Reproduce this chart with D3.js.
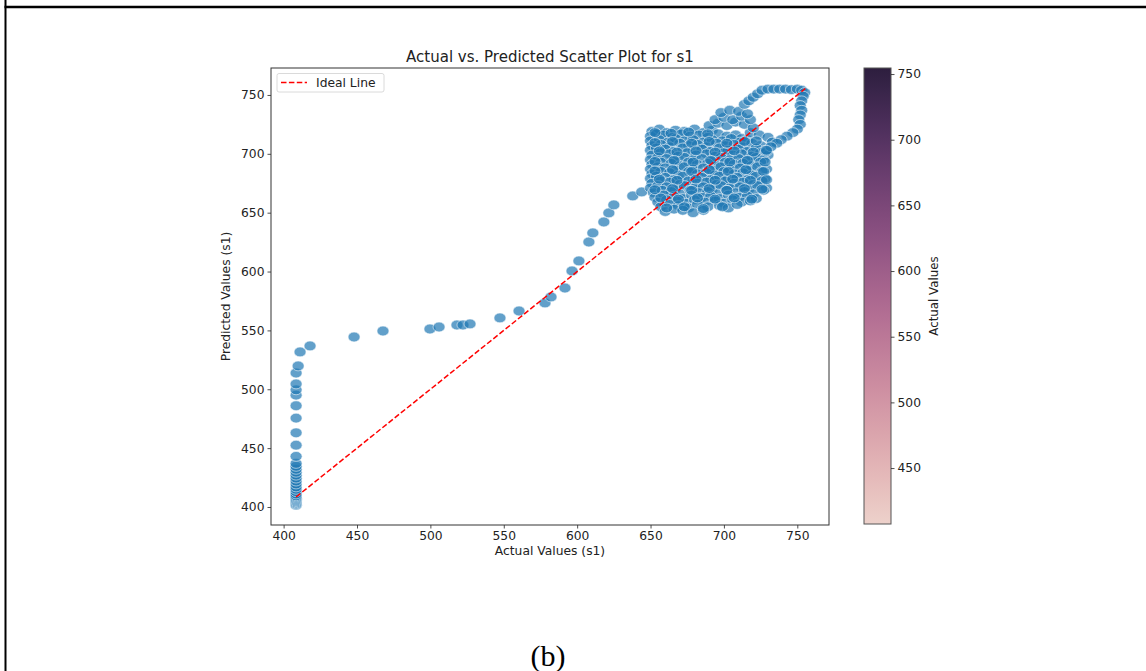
<!DOCTYPE html>
<html><head><meta charset="utf-8">
<script src="https://cdn.jsdelivr.net/npm/d3@7"></script>
<style>body{margin:0;background:#fff;} svg text{font-family:"DejaVu Sans",sans-serif;}</style>
</head><body><svg id="c" width="1146" height="671"></svg>
<script>
// ---------- data ----------
const chartTitle = "Actual vs. Predicted Scatter Plot for s1";
const xLabel = "Actual Values (s1)";
const yLabel = "Predicted Values (s1)";
const cbLabel = "Actual Values";
const legendLabel = "Ideal Line";
const captionText = "(b)";
const xTicks = [400, 450, 500, 550, 600, 650, 700, 750];
const yTicks = [400, 450, 500, 550, 600, 650, 700, 750];
const cbTicks = [450, 500, 550, 600, 650, 700, 750];
const xLimits = [391.4, 771.6];
const yLimits = [384.7, 772.9];
const cbRange = [407.4, 754.6];
const idealLine = [408.5, 755.5];

// [actual, predicted]
const columnPoints = [
 [408.5,401.5],[408.5,402.5],[408.5,403.5],[408.5,404.5],[408.5,405.5],[408.5,406.5],[408.5,407.5],[408.5,408.5],[408.5,409.5],
 [408.5,411],[408.5,413],[408.5,415],[408.5,417],[408.5,419.5],[408.5,422],[408.5,424.5],[408.5,427],[408.5,429.5],
 [408.5,432],[408.5,434.5],[408.5,437],[408.5,443],[408.5,452.5],[408.5,463],
 [408.5,475.5],[408.5,486],[408.5,495],[408.5,499.5],[408.5,504.5],
 [408.5,513.8],[409.9,519.8],[411.2,531.7]
];
const rampPoints = [
 [418,536.8],[448,544.4],[467.7,549.5],[499.7,551.2],[505.9,552.9],[518.1,554.6],[522.2,554.6],[527,555.5],
 [547.4,560.6],[560.4,566.5],[578.1,573.3],[582.2,578.4],[591.7,586],[596.5,600.5],[601.2,609],[608,625.1],
 [610.7,632.8],[618.2,642.1],[621.6,649.8],[625,656.6],[637.9,664.2],[644,667.6]
];
const clusterPoints = [
 [651,719],[656,721],[661,718],[667,720],[673,719],[680,721],[686,718],[692,720],
 [650,715],[654,717],[659,716],[665,714],[671,717],[677,715],[683,716],[689,714],[696,717],[702,715],[708,716],[712,713],
 [650,711],[656,712],[662,710],[667,713],[673,711],[679,712],[686,710],[692,712],[699,711],[705,713],[711,710],[716,712],
 [651,707],[657,708],[663,706],[670,709],[676,707],[682,708],[688,706],[695,709],[701,707],[707,708],[713,706],[719,709],[725,707],
 [650,703],[654,705],[660,704],[666,702],[672,705],[679,703],[685,704],[691,702],[697,705],[703,703],[710,704],[716,702],[722,705],[728,703],
 [651,699],[657,701],[663,700],[669,698],[675,701],[681,699],[688,700],[694,698],[700,701],[706,699],[712,700],[719,698],[725,701],[730,699],
 [650,695],[655,697],[661,696],[667,694],[673,697],[679,695],[685,696],[692,694],[698,697],[704,695],[710,696],[716,694],[722,697],[727,695],
 [651,691],[657,693],[664,692],[670,690],[676,693],[682,691],[689,692],[695,690],[701,693],[707,691],[713,692],[719,690],[725,693],
 [650,687],[655,689],[660,688],[667,686],[673,689],[679,687],[686,688],[692,686],[698,689],[704,687],[711,688],[717,686],[723,689],[729,687],
 [651,683],[657,685],[663,684],[669,682],[676,685],[682,683],[688,684],[694,682],[700,685],[707,683],[713,684],[719,682],[726,685],
 [650,679],[654,681],[660,680],[666,678],[672,681],[679,679],[685,680],[691,678],[697,681],[703,679],[709,680],[716,678],[722,681],[728,679],
 [651,675],[657,677],[663,676],[670,674],[676,677],[682,675],[688,676],[695,674],[701,677],[707,675],[713,676],[720,674],[726,677],
 [650,671],[655,673],[661,672],[667,670],[673,673],[680,671],[686,672],[692,670],[698,673],[704,671],[711,672],[717,670],[723,673],[729,671],
 [652,667],[658,669],[664,668],[670,666],[677,669],[683,667],[689,668],[695,666],[702,669],[708,667],[714,668],[720,666],[727,669],
 [653,663],[659,665],[666,664],[672,662],[678,665],[685,663],[691,664],[697,662],[703,665],[710,663],[716,664],[722,662],
 [655,659],[661,661],[668,660],[674,658],[680,661],[687,659],[694,660],[700,658],[706,661],[712,659],[718,660],
 [657,655],[663,657],[669,656],[676,654],[682,657],[689,655],[697,656],[703,654],[709,657],
 [660,651],[666,653],[672,652],[679,650],[686,652],
 [718,718],[724,716],[730,714],[733,710],[690,724],[696,726],[702,724],[708,727],[714,725],[720,722],
 [694,729],[700,731],[706,729],[712,732],[718,729],[698,735],[704,737],[710,736],[716,734],
 [653,718],[664,717.5],[676,718.5],[689,717],
 [653,709.5],[665,710.5],[678,709],[690,710.5],[702,709],[714,710.5],[722,711],
 [656,702.5],[668,701.5],[681,702.5],[694,701.5],[707,702.5],[720,701.5],[729,702],
 [653,693.5],[666,694.5],[679,693],[691,694.5],[704,693],[716,694.5],[728,693],
 [653,685.5],[665,686.5],[678,685],[690,686.5],[703,685],[715,686.5],[727,685],
 [656,678.5],[668,677.5],[681,678.5],[694,677.5],[706,678.5],[718,677.5],[729,678],
 [653,669.5],[665,670.5],[678,669],[690,670.5],[702,669],[714,670.5],[726,670],
 [657,662.5],[669,661.5],[682,662.5],[694,661.5],[707,662.5],[719,661.5],
 [661,654],[673,655],[686,653.5],[699,655]
];
const loopPoints = [
 [714,742],[717,745],[720,748],[723,751],[726,754],[730,755],[734,755],[738,755],[742,755],[746,754.5],
 [750,755],[753,754],[755,752],[754,749],[753,745],[752,741],[753,737],[752,733],[751,729],[752,725],
 [750,721],[747,718],[743,715],[739,712],[736,709],[732,706],[729,703]
];

// ---------- layout ----------
const svg = d3.select("#c");
const W = 1146, H = 671;
const plot = {left: 271, right: 829, top: 68, bottom: 525};
const cb = {left: 864, right: 891, top: 68, bottom: 524};
const baseFont = 12.3;

svg.append("line").attr("x1", 5.5).attr("x2", 5.5).attr("y1", 0).attr("y2", H).attr("stroke", "#000").attr("stroke-width", 2);
svg.append("line").attr("x1", 4.5).attr("x2", W).attr("y1", 7).attr("y2", 7).attr("stroke", "#000").attr("stroke-width", 2.5);

const x = d3.scaleLinear().domain(xLimits).range([plot.left, plot.right]);
const y = d3.scaleLinear().domain(yLimits).range([plot.bottom, plot.top]);

const allPoints = columnPoints.concat(rampPoints, clusterPoints, loopPoints);
svg.append("g").selectAll("ellipse").data(allPoints).join("ellipse")
  .attr("cx", d => x(d[0])).attr("cy", d => y(d[1]))
  .attr("rx", 6).attr("ry", 4.9)
  .attr("fill", "#1f77b4").attr("fill-opacity", 0.7)
  .attr("stroke", "#fff").attr("stroke-opacity", 0.7).attr("stroke-width", 0.8);

svg.append("line")
  .attr("x1", x(idealLine[0])).attr("y1", y(idealLine[0]))
  .attr("x2", x(idealLine[1])).attr("y2", y(idealLine[1]))
  .attr("stroke", "#ff0000").attr("stroke-width", 1.5).attr("stroke-dasharray", "5.5,2.4");

const xAxis = svg.append("g").attr("transform", `translate(0,${plot.bottom})`)
  .call(d3.axisBottom(x).tickValues(xTicks).tickSize(3.5).tickPadding(3).tickSizeOuter(0));
const yAxis = svg.append("g").attr("transform", `translate(${plot.left},0)`)
  .call(d3.axisLeft(y).tickValues(yTicks).tickSize(3.5).tickPadding(3).tickSizeOuter(0));
[xAxis, yAxis].forEach(g => {
  g.select(".domain").remove();
  g.selectAll("text").attr("font-size", baseFont).attr("fill", "#222").style("font-family", "DejaVu Sans");
  g.selectAll("line").attr("stroke", "#222").attr("stroke-width", 0.8);
});
svg.append("rect").attr("x", plot.left).attr("y", plot.top)
  .attr("width", plot.right - plot.left).attr("height", plot.bottom - plot.top)
  .attr("fill", "none").attr("stroke", "#333").attr("stroke-width", 1);

svg.append("text").attr("x", (plot.left + plot.right) / 2).attr("y", 62)
  .attr("text-anchor", "middle").attr("font-size", 15).attr("fill", "#222").text(chartTitle);
svg.append("text").attr("x", (plot.left + plot.right) / 2).attr("y", 555)
  .attr("text-anchor", "middle").attr("font-size", baseFont).attr("fill", "#222").text(xLabel);
svg.append("text").attr("transform", `translate(230,${(plot.top + plot.bottom) / 2}) rotate(-90)`)
  .attr("text-anchor", "middle").attr("font-size", baseFont).attr("fill", "#222").text(yLabel);

const lg = svg.append("g");
lg.append("rect").attr("x", 277).attr("y", 73.5).attr("width", 107).attr("height", 18.5).attr("rx", 2)
  .attr("fill", "#fff").attr("fill-opacity", 0.8).attr("stroke", "#d0d0d0").attr("stroke-width", 0.8);
lg.append("line").attr("x1", 281).attr("x2", 307).attr("y1", 82.5).attr("y2", 82.5)
  .attr("stroke", "#ff0000").attr("stroke-width", 1.5).attr("stroke-dasharray", "5.5,2.4");
lg.append("text").attr("x", 316).attr("y", 86.5).attr("font-size", baseFont).attr("fill", "#222").text(legendLabel);

function cubehelixSeaborn(t) {
  const light = 0.85, dark = 0.15, start = 0, rot = 0.4, hue = 0.8, gamma = 1;
  const xv = light + (dark - light) * t;
  const xg = Math.pow(xv, gamma);
  const a = hue * xg * (1 - xg) / 2;
  const phi = 2 * Math.PI * (start / 3 + rot * xv);
  const c = Math.cos(phi), s = Math.sin(phi);
  const r = xg + a * (-0.14861 * c + 1.78277 * s);
  const g = xg + a * (-0.29227 * c - 0.90649 * s);
  const b = xg + a * (1.97294 * c);
  const cl = v => Math.round(255 * Math.max(0, Math.min(1, v)));
  return `rgb(${cl(r)},${cl(g)},${cl(b)})`;
}
const cScale = d3.scaleLinear().domain(cbRange).range([cb.bottom, cb.top]);
const grad = svg.append("defs").append("linearGradient").attr("id", "cbgrad")
  .attr("x1", 0).attr("y1", 1).attr("x2", 0).attr("y2", 0);
d3.range(0, 1.0001, 0.05).forEach(t => {
  grad.append("stop").attr("offset", t).attr("stop-color", cubehelixSeaborn(t));
});
svg.append("rect").attr("x", cb.left).attr("y", cb.top)
  .attr("width", cb.right - cb.left).attr("height", cb.bottom - cb.top)
  .attr("fill", "url(#cbgrad)").attr("stroke", "#555").attr("stroke-width", 1);
const cAxis = svg.append("g").attr("transform", `translate(${cb.right},0)`)
  .call(d3.axisRight(cScale).tickValues(cbTicks).tickSize(3.5).tickPadding(3).tickSizeOuter(0));
cAxis.select(".domain").remove();
cAxis.selectAll("text").attr("font-size", baseFont).attr("fill", "#222").style("font-family", "DejaVu Sans");
cAxis.selectAll("line").attr("stroke", "#222").attr("stroke-width", 0.8);
svg.append("text").attr("transform", `translate(938,${(cb.top + cb.bottom) / 2}) rotate(-90)`)
  .attr("text-anchor", "middle").attr("font-size", baseFont - 0.5).attr("fill", "#222").text(cbLabel);

svg.append("text").attr("x", 548).attr("y", 666).attr("text-anchor", "middle")
  .style("font-family", "'Liberation Serif', 'Times New Roman', serif").attr("font-size", 30).attr("fill", "#000").text(captionText);
</script>
</body></html>
